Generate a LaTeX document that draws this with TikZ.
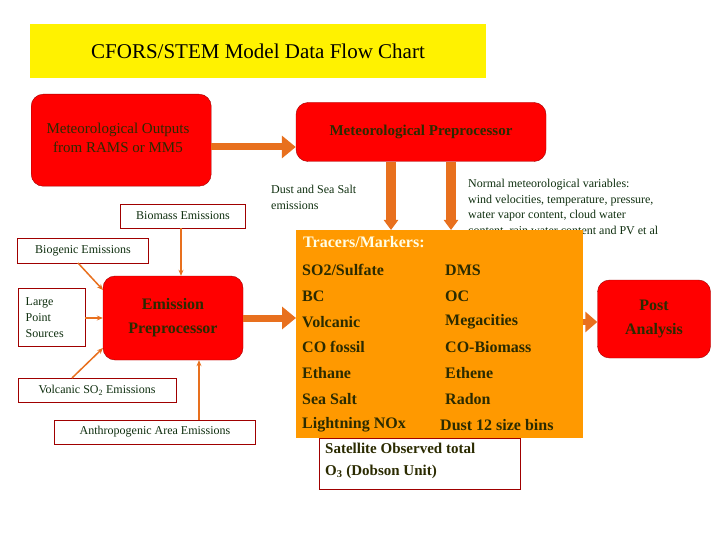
\documentclass[tikz,border=0pt]{standalone}
\usepackage{fontspec}
\setmainfont{Liberation Serif}
\usetikzlibrary{arrows.meta,calc}
\definecolor{rd}{HTML}{FF0000}
\definecolor{rdb}{HTML}{A00000}
\definecolor{orar}{HTML}{E8701E}
\definecolor{orb}{HTML}{FF9900}
\definecolor{txt}{HTML}{2B2B00}
\definecolor{lbl}{HTML}{0F2F0F}
\begin{document}
\begin{tikzpicture}[x=1pt,y=-1pt,
 redbox/.style={draw=rdb,fill=rd,rounded corners=12pt,text=txt,align=center,inner sep=0},
 wbox/.style={draw=rdb,fill=white,text=lbl,align=left,inner sep=0,font=\fontsize{12}{14}\selectfont},
 fat/.style={orar,line width=7pt,-{Triangle[length=14pt,width=22pt]}},
 fatv/.style={orar,line width=10pt,-{Triangle[length=10pt,width=14pt]}},
 thin/.style={orar,line width=1.5pt,-{Stealth[length=6pt,width=5pt]}},
 row/.style={anchor=west,font=\fontsize{16}{18}\selectfont\bfseries,text=txt,inner sep=0}]
\useasboundingbox (0,0) rectangle (720,540);
\node[fill=yellow,minimum width=456pt,minimum height=54pt,font=\fontsize{21}{24}\selectfont] (title) at (258,51) {CFORS/STEM Model Data Flow Chart};
\node[redbox,minimum width=180pt,minimum height=92pt,anchor=north west,text height=0] (metout) at (31,94) {};
\node[text=txt,align=center,font=\fontsize{15}{19}\selectfont] (metouttxt) at (118,138) {Meteorological Outputs\\from RAMS or MM5};
\node[redbox,minimum width=250pt,minimum height=59pt,font=\fontsize{15}{18}\selectfont\bfseries] (metpre) at (421,132) {Meteorological Preprocessor};
\draw[fat] (metout.east|-0,147) -- (metpre.west|-0,147);
\node[anchor=north west,align=left,text=lbl,inner sep=0,font=\fontsize{12}{16}\selectfont] (dust) at (271,185) {Dust and Sea Salt\\emissions};
\node[anchor=north west,align=left,text=lbl,inner sep=0,font=\fontsize{12}{15.7}\selectfont] (normal) at (468,179) {Normal meteorological variables:\\wind velocities, temperature, pressure,\\water vapor content, cloud water\\content, rain water content and PV et al};
\node[fill=orb,minimum width=287pt,minimum height=208pt,anchor=north west,inner sep=0] (tracer) at (296,230) {};
\node[anchor=north west,inner sep=0,font=\fontsize{16}{18}\selectfont\bfseries,text=white!90!yellow] (tm) at (303,236) {Tracers/Markers:};
\foreach \a/\b/\y [count=\i] in {{SO2/Sulfate}/DMS/270,BC/OC/296,Volcanic/Megacities/322,CO fossil/CO-Biomass/347,Ethane/Ethene/373,Sea Salt/Radon/399}
 {\node[row] (l\i) at (302,\y) {\a}; \node[row] (r\i) at (445,\y) {\b};}
\node[row] (l7) at (302,425) {Lightning NOx};
\node[row] (r7) at (440,425) {Dust 12 size bins};
\coordinate (d1) at (391,162); \coordinate (d2) at (451,162);
\draw[fatv] (d1) -- (d1|-tracer.north);
\draw[fatv] (d2) -- (d2|-tracer.north);
\node[wbox,minimum width=201pt,minimum height=51pt,anchor=north west] (sat) at (319,438) {};
\node[anchor=north west,inner sep=0,align=left,text=txt,font=\fontsize{15}{22}\selectfont\bfseries] (sattxt) at (325,443) {Satellite Observed total\\O\textsubscript{3} (Dobson Unit)};
\node[redbox,minimum width=113pt,minimum height=78pt,font=\fontsize{16}{24}\selectfont\bfseries] (post) at (654,319) {Post\\Analysis};
\draw[fat,line width=6pt,-{Triangle[length=12pt,width=20pt]}] (tracer.east|-0,322) -- (post.west|-0,322);
\node[redbox,minimum width=140pt,minimum height=84pt,font=\fontsize{16}{24}\selectfont\bfseries] (emis) at (173,318) {Emission\\Preprocessor};
\draw[fat] (emis.east|-0,318) -- (tracer.west|-0,318);
\node[wbox,minimum width=125pt,minimum height=24pt,align=center] (bio) at (183,216) {Biomass Emissions};
\node[wbox,minimum width=131pt,minimum height=25pt,align=center] (biog) at (83,251) {Biogenic Emissions};
\node[wbox,minimum width=67pt,minimum height=58pt,anchor=north west,text width=60pt,font=\fontsize{12}{16}\selectfont] (lps) at (18,288) {\hspace*{4pt}Large\\\hspace*{4pt}Point\\\hspace*{4pt}Sources};
\node[wbox,minimum width=158pt,minimum height=24pt,align=center] (volc) at (97,390) {Volcanic SO\textsubscript{2} Emissions};
\node[wbox,minimum width=201pt,minimum height=24pt,align=center] (anth) at (155,432) {Anthropogenic Area Emissions};
\draw[thin] (bio.south-|181,0) -- (emis.north-|181,0);
\draw[thin] (78,263) -- (103,290);
\draw[thin] (lps.east|-0,318) -- (emis.west|-0,318);
\draw[thin] (72,378) -- (103,348);
\draw[thin] (anth.north-|199,0) -- (emis.south-|199,0);
\end{tikzpicture}
\end{document}
